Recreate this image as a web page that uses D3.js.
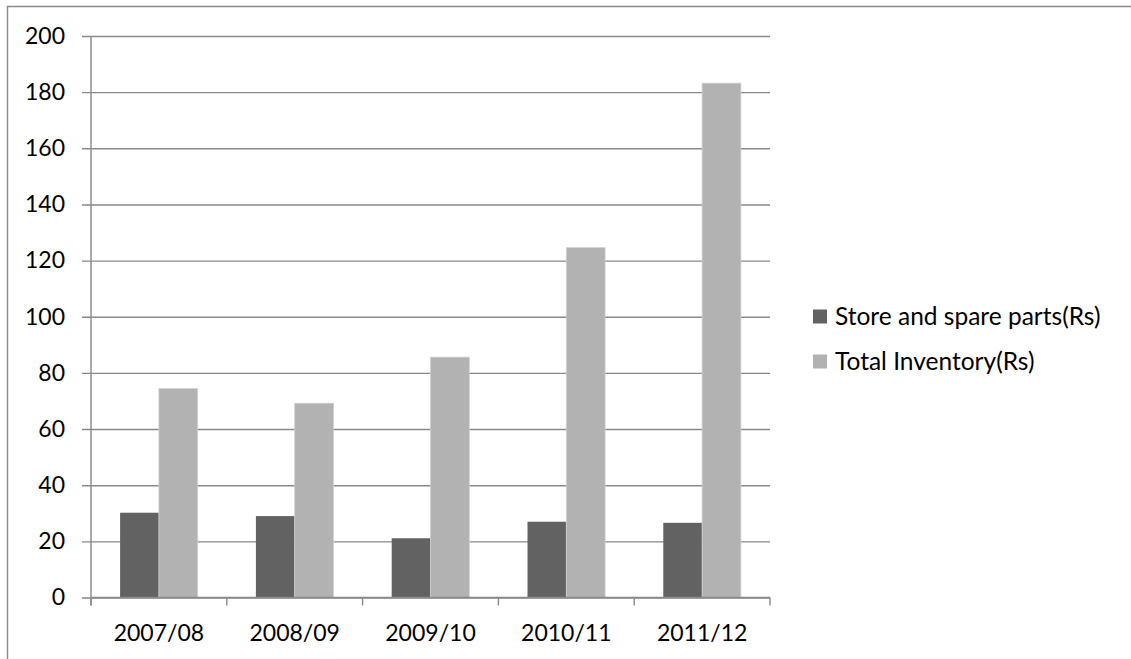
<!DOCTYPE html>
<html>
<head>
<meta charset="utf-8">
<script src="https://cdn.jsdelivr.net/npm/d3@7"></script>
<style>
  html, body { margin: 0; padding: 0; background: #fff; }
  svg { display: block; }
  text { font-family: Lato, "Open Sans", sans-serif; fill: #000; }
</style>
</head>
<body>
<svg id="chart" width="1131" height="659"></svg>
<script>
// Inventory data (Rs)
const categories = ["2007/08", "2008/09", "2009/10", "2010/11", "2011/12"];
const seriesNames = ["Store and spare parts(Rs)", "Total Inventory(Rs)"];
const storeSpares = [30.2, 29.0, 21.1, 27.0, 26.6];
const totalInventory = [74.4, 69.2, 85.6, 124.6, 183.2];
const yTicks = [0, 20, 40, 60, 80, 100, 120, 140, 160, 180, 200];
const seriesColors = ["#626262", "#b2b2b2"];

const seriesValues = [storeSpares, totalInventory];

const svg = d3.select("#chart");
const plotLeft = 91, plotRight = 770, plotTop = 36, plotBottom = 597.5;
const gridColor = "#898989";
const axisFont = 23, legendFont = 24.5;

// outer frame
svg.append("path")
  .attr("d", `M7.5,1131 V6.5 H1131`)
  .attr("fill", "none")
  .attr("stroke", gridColor)
  .attr("stroke-width", 1.4);

const y = d3.scaleLinear().domain([0, 200]).range([plotBottom, plotTop]);
const x0 = d3.scaleBand().domain(categories).range([plotLeft, plotRight]).paddingInner(0).paddingOuter(0);
const x1 = d3.scaleBand().domain(seriesNames).range([0, x0.bandwidth()]).paddingInner(0).paddingOuter(0.75);

// gridlines + y tick labels
const yAxis = svg.append("g")
  .attr("transform", `translate(${plotRight},0)`)
  .call(d3.axisLeft(y).tickValues(yTicks).tickSize(plotRight - plotLeft + 9).tickPadding(17).tickFormat(d3.format("d")));
yAxis.select(".domain").remove();
yAxis.selectAll(".tick line").attr("stroke", gridColor).attr("stroke-width", 1.4);
yAxis.selectAll(".tick text").attr("font-size", axisFont).attr("font-family", "Lato, sans-serif").attr("fill", "#000");

// bars
const groups = svg.append("g").selectAll("g")
  .data(categories)
  .join("g")
  .attr("transform", d => `translate(${x0(d)},0)`);

groups.selectAll("rect")
  .data((c, i) => seriesNames.map((s, j) => ({ s, j, v: seriesValues[j][i] })))
  .join("rect")
  .attr("x", d => x1(d.s))
  .attr("width", x1.bandwidth())
  .attr("y", d => y(d.v))
  .attr("height", d => y(0) - y(d.v))
  .attr("fill", d => seriesColors[d.j])
  .attr("stroke", d => d.j === 1 ? "#cfcfcf" : "none")
  .attr("stroke-width", 0.8);

// vertical axis line
svg.append("line")
  .attr("x1", plotLeft).attr("x2", plotLeft)
  .attr("y1", plotTop).attr("y2", plotBottom + 8)
  .attr("stroke", gridColor).attr("stroke-width", 1.4);

// horizontal axis with boundary ticks
svg.append("line")
  .attr("x1", plotLeft).attr("x2", plotRight)
  .attr("y1", plotBottom).attr("y2", plotBottom)
  .attr("stroke", gridColor).attr("stroke-width", 1.4);
const bounds = categories.map(c => x0(c)).concat([plotRight]);
svg.append("g").selectAll("line")
  .data(bounds)
  .join("line")
  .attr("x1", d => d).attr("x2", d => d)
  .attr("y1", plotBottom).attr("y2", plotBottom + 8)
  .attr("stroke", gridColor).attr("stroke-width", 1.4);

const xAxis = svg.append("g")
  .attr("transform", `translate(0,${plotBottom})`)
  .call(d3.axisBottom(x0).tickSize(0).tickPadding(27.5));
xAxis.select(".domain").remove();
xAxis.selectAll(".tick text").attr("font-size", axisFont).attr("font-family", "Lato, sans-serif").attr("fill", "#000");

// legend
const legend = svg.append("g").attr("transform", "translate(813,0)");
const legendY = [316.5, 361.5];
seriesNames.forEach((name, i) => {
  legend.append("rect")
    .attr("x", 0).attr("y", legendY[i] - 7)
    .attr("width", 14).attr("height", 14)
    .attr("fill", seriesColors[i]);
  legend.append("text")
    .attr("x", 22).attr("y", legendY[i])
    .attr("dy", "0.36em")
    .attr("font-size", legendFont)
    .text(name);
});
</script>
</body>
</html>
